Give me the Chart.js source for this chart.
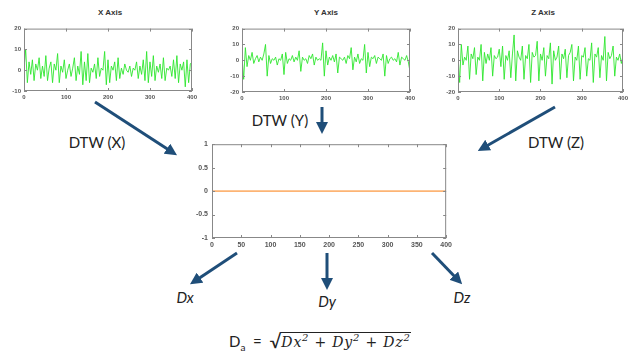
<!DOCTYPE html>
<html>
<head>
<meta charset="utf-8">
<script src="https://cdn.jsdelivr.net/npm/chart.js@4.4.1/dist/chart.umd.min.js"></script>
<style>
  html, body { margin: 0; padding: 0; background: #fff; }
  #stage { position: relative; width: 631px; height: 354px; overflow: hidden; font-family: Lato, "Liberation Sans", sans-serif; }
  canvas { position: absolute; }
  .ttl { position: absolute; font: bold 8px Arial, "Liberation Sans", sans-serif; color: #333; transform: translateX(-50%); }
  .lbl { position: absolute; font-size: 15px; color: #222; transform: translate(-50%, -50%); white-space: nowrap; }
  .it { font-style: italic; }
  svg { position: absolute; left: 0; top: 0; }
  .fml { position: absolute; left: 229px; top: 330px; height: 24px; line-height: 22px; font-size: 15px; color: #222; white-space: nowrap; }
  .fml sup { font-size: 10px; line-height: 0; }
  .fml sub { font-size: 10px; line-height: 0; }
</style>
</head>
<body>
<div id="stage">
  <canvas id="cx" width="200" height="84" style="left:0px;top:22px"></canvas>
  <canvas id="cy" width="200" height="85" style="left:218px;top:22px"></canvas>
  <canvas id="cz" width="197" height="85" style="left:434px;top:22px"></canvas>
  <canvas id="cd" width="275" height="118" style="left:180px;top:136px"></canvas>

  <div class="ttl" style="left:110px;top:8px">X Axis</div>
  <div class="ttl" style="left:326px;top:8px">Y Axis</div>
  <div class="ttl" style="left:543px;top:8px">Z Axis</div>

  <div class="lbl" style="left:97px;top:142px">DTW (X)</div>
  <div class="lbl" style="left:280px;top:120px">DTW (Y)</div>
  <div class="lbl" style="left:556px;top:142px">DTW (Z)</div>

  <div class="lbl it" style="left:185px;top:297px">Dx</div>
  <div class="lbl it" style="left:327px;top:301px">Dy</div>
  <div class="lbl it" style="left:462px;top:297px">Dz</div>

  <div class="fml">D<sub>a</sub>&nbsp;&nbsp;=&nbsp;&nbsp;<span style="font-size:19px;line-height:0;position:relative;top:1px">√</span><span class="it" style="border-top:1px solid #222;padding-top:1px;letter-spacing:0.8px;font-family:'DejaVu Serif',serif;font-size:14px">Dx<sup>2</sup> + Dy<sup>2</sup> + Dz<sup>2</sup></span></div>

  <svg width="631" height="354">
    <defs>
      <marker id="ah" markerWidth="4" markerHeight="4" refX="2" refY="2" orient="auto" markerUnits="strokeWidth">
        <path d="M0,0 L4,2 L0,4 z" fill="#1f4e79"/>
      </marker>
    </defs>
    <g stroke="#1f4e79" stroke-width="3" marker-end="url(#ah)">
      <line x1="95" y1="102" x2="172" y2="152"/>
      <line x1="322" y1="107" x2="322" y2="128"/>
      <line x1="555" y1="107" x2="483" y2="148"/>
      <line x1="237" y1="253" x2="195" y2="281"/>
      <line x1="327" y1="253" x2="327" y2="284"/>
      <line x1="432" y1="253" x2="458" y2="280"/>
    </g>
  </svg>
</div>

<script>
// accelerometer axes, sampled every few steps over 0..400
const xAxisVals = [1, 10, -6, 4, -2, 5, -5, 3, 0, 6, -4, 2, -3, 7, -5, 1, 4, -6, 3, 0, 8, -6, 2, -1, 5, -4, 0, 3, -3, 1, 6, -5, 2, -2, 9, -7, 4, -5, 8, -6, 1, -1, 3, -4, 6, -3, 1, 0, 9, -7, 5, -6, 2, 0, 4, -5, 6, -4, 1, -2, 3, 0, -1, 2, -3, 1, 0, 4, -4, 2, -2, 5, -5, 9, -6, 4, -3, 7, -5, 2, -1, 3, -4, 6, -5, 1, 0, 2, -3, 5, -4, 7, -6, 3, 0, 4, -8, 5, -6, 3, 4];
const yAxisVals = [2, -12, 8, -4, 3, 0, 5, -2, 1, 3, -1, 2, 0, 4, 10, -10, 3, -2, 1, 0, 2, -3, 1, 0, 4, -9, 5, -2, 1, 0, 3, -1, 2, 0, 6, -7, 2, 0, 1, -2, 3, 1, 4, -3, 2, 0, 1, 0, 11, -10, 6, -3, 2, 0, 3, -1, 4, -8, 2, 1, 0, 2, -2, 3, 1, 8, -6, 2, -1, 4, -2, 1, 0, 10, -8, 5, -4, 2, 1, 3, -2, 2, 1, 0, 4, -10, 3, -2, 1, 2, 0, 1, -1, 5, -3, 2, 1, 0, 3, -1, -7];
const zAxisVals = [3, -14, 10, -3, 2, 0, 9, -12, 4, 1, 8, -9, 2, 0, 10, -13, 5, -2, 4, 0, 8, -10, 3, 1, 2, 7, -4, 9, -12, 3, 0, 6, -11, 4, 16, -13, 6, 2, 0, 9, -12, 3, 1, 10, -14, 5, 2, 3, 12, -13, 4, 0, 8, -10, 3, 1, 11, -15, 6, 0, 2, 9, -12, 4, 1, 7, -11, 3, 5, 10, -13, 2, 0, 9, -12, 3, 2, 8, -10, 1, 0, 11, -14, 4, 2, 8, -11, 3, 0, 15, -13, 5, 1, 3, 9, -10, 2, 0, 4, -2, 3];

// DTW result (flat)
const dtwSteps = [0, 50, 100, 150, 200, 250, 300, 350, 400];
const dtwVals = [0, 0, 0, 0, 0, 0, 0, 0, 0];

const xTicksSmall = [0, 100, 200, 300, 400];

function toPoints(vals, span) {
  const step = span / (vals.length - 1);
  return vals.map((v, i) => ({ x: i * step, y: v }));
}

// matlab-like box with small inward ticks
const boxPlugin = {
  id: "box",
  afterDraw(chart) {
    const { ctx, chartArea: a, scales } = chart;
    ctx.save();
    ctx.strokeStyle = "#888";
    ctx.lineWidth = 1;
    ctx.strokeRect(a.left + 0.5, a.top + 0.5, a.right - a.left - 1, a.bottom - a.top - 1);
    ctx.beginPath();
    scales.x.ticks.forEach(t => {
      const px = Math.round(scales.x.getPixelForValue(t.value)) + 0.5;
      ctx.moveTo(px, a.bottom); ctx.lineTo(px, a.bottom - 3);
      ctx.moveTo(px, a.top); ctx.lineTo(px, a.top + 3);
    });
    scales.y.ticks.forEach(t => {
      const py = Math.round(scales.y.getPixelForValue(t.value)) + 0.5;
      ctx.moveTo(a.left, py); ctx.lineTo(a.left + 3, py);
      ctx.moveTo(a.right, py); ctx.lineTo(a.right - 3, py);
    });
    ctx.stroke();
    ctx.restore();
  }
};

const plainNum = v => String(+(+v).toFixed(2));
const noGrid = { display: false, drawTicks: false };

function makeSignal(id, vals, ymin, ymax, padRight) {
  const font = { family: "Arial, 'Liberation Sans'", size: 6, weight: "bold" };
  return new Chart(document.getElementById(id), {
    type: "line",
    data: {
      datasets: [{
        data: toPoints(vals, 400),
        borderColor: "#2ee62e",
        borderWidth: 0.9,
        pointRadius: 0,
        tension: 0,
      }]
    },
    options: {
      responsive: false,
      animation: false,
      layout: { padding: { top: 6, right: padRight, left: 0, bottom: 0 } },
      plugins: { legend: { display: false }, tooltip: { enabled: false } },
      scales: {
        x: {
          type: "linear", min: 0, max: 400,
          afterBuildTicks(s) { s.ticks = xTicksSmall.map(v => ({ value: v })); },
          ticks: { font, color: "#555", padding: 3, maxRotation: 0, autoSkip: false, callback: plainNum },
          grid: noGrid, border: { display: false },
          afterFit(s) { s.height = 15; },
        },
        y: {
          min: ymin, max: ymax,
          ticks: { stepSize: 10, font, color: "#555", padding: 3, callback: plainNum },
          grid: noGrid, border: { display: false },
          afterFit(s) { s.width = 24; },
        }
      }
    },
    plugins: [boxPlugin]
  });
}

makeSignal("cx", xAxisVals, -10, 20, 5);
makeSignal("cy", yAxisVals, -20, 20, 6);
makeSignal("cz", zAxisVals, -20, 20, 2);

// DTW output panel
const midFont = { family: "Arial, 'Liberation Sans'", size: 7, weight: "bold" };
new Chart(document.getElementById("cd"), {
  type: "line",
  data: {
    datasets: [{
      data: dtwSteps.map((s, i) => ({ x: s, y: dtwVals[i] })),
      borderColor: "#fdb474",
      borderWidth: 1.6,
      pointRadius: 0,
    }]
  },
  options: {
    responsive: false,
    animation: false,
    layout: { padding: { top: 6, right: 7, left: 0, bottom: 0 } },
    plugins: { legend: { display: false }, tooltip: { enabled: false } },
    scales: {
      x: {
        type: "linear", min: 0, max: 400,
        ticks: { stepSize: 50, font: midFont, color: "#555", padding: 3, maxRotation: 0, autoSkip: false, callback: plainNum },
        grid: noGrid, border: { display: false },
        afterFit(s) { s.height = 16; },
      },
      y: {
        min: -1, max: 1,
        ticks: { stepSize: 0.5, font: midFont, color: "#555", padding: 4, callback: plainNum },
        grid: noGrid, border: { display: false },
        afterFit(s) { s.width = 32; },
      }
    }
  },
  plugins: [boxPlugin]
});
</script>
</body>
</html>
